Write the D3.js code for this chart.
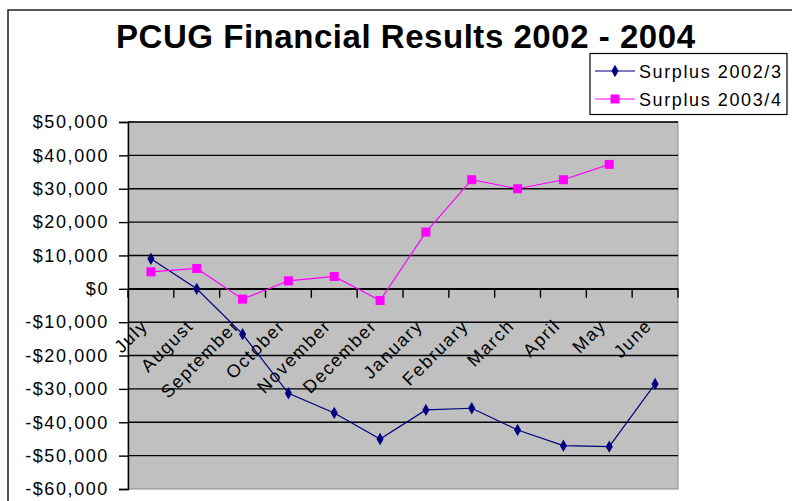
<!DOCTYPE html>
<html><head><meta charset="utf-8">
<script src="https://cdn.jsdelivr.net/npm/d3@7"></script>
<style>
html,body{margin:0;padding:0;background:#fff;}
svg{display:block;}
text{font-family:"Liberation Sans",Arial,sans-serif;fill:#000;}
</style></head>
<body>
<script>
const months = ["July","August","September","October","November","December","January","February","March","April","May","June"];
const surplus2002 = [9000, 0, -13600, -31300, -37200, -45000, -36300, -35800, -42300, -47000, -47300, -28500];
const surplus2003 = [5100, 6100, -3100, 2400, 3700, -3500, 17000, 32700, 30000, 32700, 37300, null];
const yTicks = [50000, 40000, 30000, 20000, 10000, 0, -10000, -20000, -30000, -40000, -50000, -60000];
const seriesNames = ["Surplus 2002/3", "Surplus 2003/4"];
const title = "PCUG Financial Results 2002 - 2004";

const W = 792, H = 501;
const FS = 18, LS = "1.6px";
const svg = d3.select("body").append("svg").attr("width", W).attr("height", H);

// chart area border
svg.append("rect").attr("x", 8).attr("y", 10).attr("width", 820).attr("height", 520)
  .attr("fill", "#fff").attr("stroke", "#222").attr("stroke-width", 1.5);

const x0 = 128, x1 = 678, yTop = 122, yBot = 489;
const x = d3.scaleBand().domain(months).range([x0, x1]);
const y = d3.scaleLinear().domain([-60000, 50000]).range([yBot, yTop]);

// plot area
svg.append("rect").attr("x", x0).attr("y", yTop).attr("width", x1 - x0).attr("height", yBot - yTop)
  .attr("fill", "#C0C0C0").attr("stroke", "#8a8a8a").attr("stroke-width", 1);

// gridlines
svg.append("g").selectAll("line").data(yTicks.filter(d => d !== -60000)).join("line")
  .attr("x1", x0).attr("x2", x1).attr("y1", d => y(d)).attr("y2", d => y(d))
  .attr("stroke", "#000").attr("stroke-width", 1.4);

// y axis
const yAxis = d3.axisLeft(y).tickValues(yTicks).tickSize(9).tickPadding(10)
  .tickFormat(d => (d < 0 ? "-$" : "$") + d3.format(",")(Math.abs(d)));
const gy = svg.append("g").attr("transform", `translate(${x0},0)`).call(yAxis);
gy.select(".domain").attr("stroke", "#000").attr("stroke-width", 1.4);
gy.selectAll(".tick line").attr("stroke", "#000").attr("stroke-width", 1.4);
gy.selectAll(".tick text").attr("font-size", FS).attr("letter-spacing", LS)
  .attr("font-family", "Liberation Sans, Arial, sans-serif").attr("fill", "#000");

// x axis at zero
const xAxis = d3.axisBottom(x).tickSize(0).tickFormat("");
const gx = svg.append("g").attr("transform", `translate(0,${y(0)})`).call(xAxis);
gx.select(".domain").attr("stroke", "#000").attr("stroke-width", 1.4);
const bounds = d3.range(months.length + 1).map(i => x0 + i * x.step());
gx.append("g").selectAll("line").data(bounds).join("line")
  .attr("x1", d => d).attr("x2", d => d).attr("y1", 0).attr("y2", 9)
  .attr("stroke", "#000").attr("stroke-width", 1.4);

// category labels
svg.append("g").selectAll("text").data(months).join("text")
  .attr("transform", d => `translate(${x(d) + x.bandwidth() / 2 - 2},${y(0) + 38}) rotate(-45)`)
  .attr("text-anchor", "end").attr("font-size", FS).attr("letter-spacing", LS)
  .text(d => d);

const cx = d => x(d) + x.bandwidth() / 2;

// series 1
const line1 = d3.line().defined(d => d[1] !== null).x(d => cx(d[0])).y(d => y(d[1]));
const d1 = months.map((m, i) => [m, surplus2002[i]]);
const d2 = months.map((m, i) => [m, surplus2003[i]]);
svg.append("path").attr("d", line1(d1)).attr("fill", "none").attr("stroke", "#000080").attr("stroke-width", 1.2);
const diamond = d3.symbol().type(d3.symbolDiamond).size(44);
svg.append("g").selectAll("path").data(d1.filter(d => d[1] !== null)).join("path")
  .attr("transform", d => `translate(${cx(d[0])},${y(d[1])})`)
  .attr("d", diamond).attr("fill", "#000080");

// series 2
svg.append("path").attr("d", line1(d2)).attr("fill", "none").attr("stroke", "#FF00FF").attr("stroke-width", 1.2);
svg.append("g").selectAll("rect").data(d2.filter(d => d[1] !== null)).join("rect")
  .attr("x", d => cx(d[0]) - 4.5).attr("y", d => y(d[1]) - 4.5).attr("width", 9).attr("height", 9)
  .attr("fill", "#FF00FF");

// title
svg.append("text").attr("x", 116).attr("y", 48).attr("font-size", 33).attr("font-weight", "bold")
  .attr("textLength", 579).attr("lengthAdjust", "spacing").text(title);

// legend
const lg = svg.append("g");
lg.append("rect").attr("x", 590).attr("y", 53.5).attr("width", 197).attr("height", 61)
  .attr("fill", "#fff").attr("stroke", "#000").attr("stroke-width", 1.2);
const colors = ["#000080", "#FF00FF"];
seriesNames.forEach((name, i) => {
  const ly = 71 + i * 28;
  lg.append("line").attr("x1", 595).attr("x2", 635).attr("y1", ly).attr("y2", ly)
    .attr("stroke", colors[i]).attr("stroke-width", 1.2);
  if (i === 0) {
    lg.append("path").attr("transform", `translate(615,${ly})`).attr("d", diamond).attr("fill", colors[i]);
  } else {
    lg.append("rect").attr("x", 610.5).attr("y", ly - 4.5).attr("width", 9).attr("height", 9).attr("fill", colors[i]);
  }
  lg.append("text").attr("x", 639).attr("y", ly + 6.5).attr("font-size", FS)
    .attr("letter-spacing", LS).text(name);
});
</script>
</body></html>
